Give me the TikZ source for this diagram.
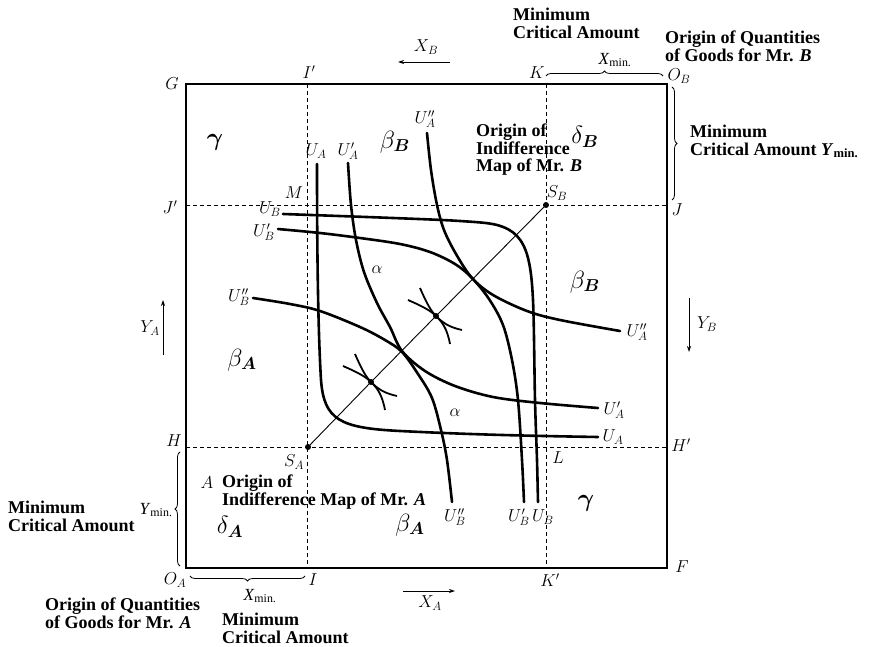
\documentclass[tikz,border=0pt]{standalone}
\usepackage{fontspec}
\setmainfont{Liberation Serif}
\usepackage{bm}
\usetikzlibrary{decorations.pathreplacing,arrows.meta}
\begin{document}
\begin{tikzpicture}[x=1pt,y=-1pt,
  box/.style={line width=1.4pt},
  guide/.style={line width=0.7pt, dash pattern=on 4pt off 3pt},
  ucurve/.style={line width=2.6pt, line cap=round},
  lab/.style={inner sep=0pt, font=\fontsize{17}{17}\selectfont},
  txt/.style={inner sep=0pt, align=left, anchor=north west, font=\fontsize{18}{17.5}\selectfont\bfseries},
  region/.style={inner sep=0pt, font=\fontsize{25}{25}\selectfont},
  small/.style={inner sep=0pt, font=\fontsize{16}{16}\selectfont},
  brc/.style={decorate, decoration={brace, amplitude=5pt}, line width=0.8pt},
  axarrow/.style={-{Stealth[length=6pt,width=4pt]}, line width=0.8pt},
  dot/.style={circle, fill, inner sep=0pt, minimum size=6pt},
  diag/.style={line width=0.9pt},
  tang/.pic={
    \draw[line width=1.8pt] (-16,-28) .. controls (-9,-12) and (-5,-5) .. (0,0)
        .. controls (6,6) and (12,11) .. (26,14);
    \draw[line width=1.8pt] (-28,-16) .. controls (-12,-9) and (-5,-5) .. (0,0)
        .. controls (6,6) and (11,12) .. (14,28);
  }
]
\useasboundingbox (0,0) rectangle (870,647);

% corners
\coordinate (G) at (186,84);
\coordinate (OB) at (667,84);
\coordinate (F) at (667,568);
\coordinate (OA) at (186,568);
% guide ends
\coordinate (Ip) at (307,84);
\coordinate (I) at (307,568);
\coordinate (K) at (546,84);
\coordinate (Kp) at (546,568);
\coordinate (Jp) at (186,205);
\coordinate (J) at (667,205);
\coordinate (H) at (186,447);
\coordinate (Hp) at (667,447);

\draw[box] (G) -- (OB) -- (F) -- (OA) -- cycle;
\draw[guide] (Ip) -- (I);
\draw[guide] (K) -- (Kp);
\draw[guide] (Jp) -- (J);
\draw[guide] (H) -- (Hp);

% contract line and points
\node[dot] (SA) at (308,447) {};
\node[dot] (SB) at (546,205) {};
\node[dot] (T1) at (436,316) {};
\node[dot] (T2) at (371,382) {};
\draw[diag] (SA.center) -- (T2.center) -- (T1.center) -- (SB.center);
\pic at (T1) {tang};
\pic at (T2) {tang};

% indifference curves of A
\draw[ucurve] (317,164) .. controls (317,250) and (318,330) .. (321,380)
  .. controls (324,420) and (340,428) .. (400,431)
  .. controls (480,435) and (540,436) .. (598,437);
\draw[ucurve] plot[smooth, tension=0.55] coordinates {(348,163) (351,205) (356,240) (364,272) (377,303) (390,327) (402,351) (425,371) (455,386) (493,397) (540,403) (598,408)};
\draw[ucurve] plot[smooth, tension=0.55] coordinates {(427,133) (431,170) (437,205) (444,230) (456,254) (472,278) (493,295) (527,311) (560,320) (620,331)};
% indifference curves of B
\draw[ucurve] plot[smooth, tension=0.55] coordinates {(283,214) (393,218) (460,221) (497,225) (517,236) (528,258) (533,300) (535,400) (537,460) (538,502)};
\draw[ucurve] plot[smooth, tension=0.55] coordinates {(278,229) (320,233) (360,238) (400,244) (430,252) (455,264) (472,278) (489,299) (503,325) (512,360) (518,400) (522,460) (524,502)};
\draw[ucurve] plot[smooth, tension=0.55] coordinates {(253,298) (290,304) (320,311) (360,327) (385,340) (402,352) (418,374) (432,398) (441,430) (447,460) (452,502)};

% curve labels
\node[lab] (uAt) at (316,151) {$U_A$};
\node[lab] (uApt) at (348,151) {$U'_A$};
\node[lab] (uAppt) at (425,119) {$U''_A$};
\node[lab] (uBl) at (270,209) {$U_B$};
\node[lab] (uBpl) at (264,232) {$U'_B$};
\node[lab] (uBppl) at (239,297) {$U''_B$};
\node[lab] (uAppr) at (637,332) {$U''_A$};
\node[lab] (uApr) at (614,410) {$U'_A$};
\node[lab] (uAr) at (613,437) {$U_A$};
\node[lab] (uBppb) at (455,517) {$U''_B$};
\node[lab] (uBpb) at (519,517) {$U'_B$};
\node[lab] (uBb) at (543,517) {$U_B$};

% point labels
\node[lab] (lG) at (172,84) {$G$};
\node[lab] (lIp) at (309,72) {$I'$};
\node[lab] (lK) at (537,73) {$K$};
\node[lab] (lOB) at (679,76) {$O_B$};
\node[lab] (lJp) at (170,207) {$J'$};
\node[lab] (lJ) at (677,210) {$J$};
\node[lab] (lM) at (294,193) {$M$};
\node[lab] (lSB) at (557,193) {$S_B$};
\node[lab] (lH) at (174,441) {$H$};
\node[lab] (lHp) at (681,445) {$H'$};
\node[lab] (lL) at (558,458) {$L$};
\node[lab] (lSA) at (294,462) {$S_A$};
\node[lab] (lOA) at (175,580) {$O_A$};
\node[lab] (lI) at (313,580) {$I$};
\node[lab] (lKp) at (550,580) {$K'$};
\node[lab] (lF) at (682,567) {$F$};

% region labels
\node[region] (g1) at (215,142) {$\bm{\gamma}$};
\node[region] (bB1) at (395,142) {$\beta_{\bm B}$};
\node[region] (dB) at (585,137) {$\delta_{\bm B}$};
\node[region] (bB2) at (585,282) {$\beta_{\bm B}$};
\node[region] (bA1) at (242,360) {$\beta_{\bm A}$};
\node[region] (dA) at (230,527) {$\delta_{\bm A}$};
\node[region] (bA2) at (410,525) {$\beta_{\bm A}$};
\node[region] (g2) at (586,503) {$\bm{\gamma}$};
\node[small] (a1) at (377,270) {$\alpha$};
\node[small] (a2) at (455,413) {$\alpha$};
\node[small] (aA) at (207,483) {$A$};

% axis arrows
\coordinate (xb1) at (450,62); \coordinate (xb2) at (398,62);
\draw[axarrow] (xb1) -- (xb2);
\node[lab] (lXB) at (426,47) {$X_B$};
\coordinate (ya1) at (163,355); \coordinate (ya2) at (163,300);
\draw[axarrow] (ya1) -- (ya2);
\node[lab] (lYA) at (150,328) {$Y_A$};
\coordinate (yb1) at (689,298); \coordinate (yb2) at (689,352);
\draw[axarrow] (yb1) -- (yb2);
\node[lab] (lYB) at (707,324) {$Y_B$};
\coordinate (xa1) at (403,591); \coordinate (xa2) at (455,591);
\draw[axarrow] (xa1) -- (xa2);
\node[lab] (lXA) at (430,603) {$X_A$};

% braces
\coordinate (bt1) at (546,76); \coordinate (bt2) at (663,76);
\draw[brc] (bt1) -- (bt2);
\node[lab] (xmt) at (615,60) {\textit{X}\textsubscript{min.}};
\coordinate (br1) at (672,87); \coordinate (br2) at (672,200);
\draw[brc] (br1) -- (br2);
\coordinate (bl1) at (180,566); \coordinate (bl2) at (180,452);
\draw[brc] (bl1) -- (bl2);
\node[lab] (yml) at (156,510) {\textit{Y}\textsubscript{min.}};
\coordinate (bb1) at (305,576); \coordinate (bb2) at (190,576);
\draw[brc] (bb1) -- (bb2);
\node[lab] (xmb) at (260,596) {\textit{X}\textsubscript{min.}};

% text blocks
\node[txt] (t1) at (513,8) {Minimum\\Critical Amount};
\node[txt] (t2) at (665,31) {Origin of Quantities\\of Goods for Mr. \textit{B}};
\node[txt] (t3) at (476,124) {Origin of\\Indifference\\Map of Mr. \textit{B}};
\node[txt] (t4) at (690,125) {Minimum\\Critical Amount \textit{Y}\textsubscript{min.}};
\node[txt] (t5) at (222,475) {Origin of\\Indifference Map of Mr. \textit{A}};
\node[txt] (t6) at (8,501) {Minimum\\Critical Amount};
\node[txt] (t7) at (45,598) {Origin of Quantities\\of Goods for Mr. \textit{A}};
\node[txt] (t8) at (222,613) {Minimum\\Critical Amount};
\end{tikzpicture}
\end{document}
